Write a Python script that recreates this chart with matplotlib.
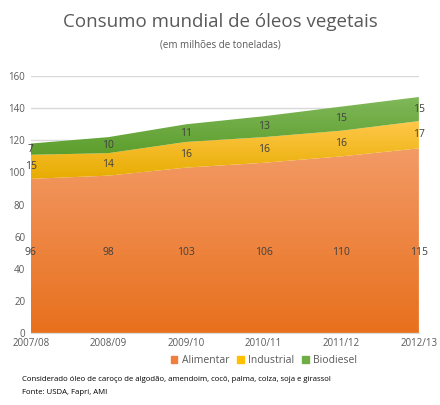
import matplotlib
matplotlib.use("Agg")
import matplotlib.pyplot as plt
import numpy as np
from matplotlib.colors import LinearSegmentedColormap
plt.rcParams['font.family'] = ['Open Sans', 'DejaVu Sans']

years = ["2007/08", "2008/09", "2009/10", "2010/11", "2011/12", "2012/13"]
alimentar = [96, 98, 103, 106, 110, 115]
industrial = [15, 14, 16, 16, 16, 17]
biodiesel = [7, 10, 11, 13, 15, 15]

fig = plt.figure(figsize=(4.4, 4.05), dpi=100)
ax = fig.add_axes([0.07, 0.178, 0.882, 0.634])
x = np.arange(len(years))
a = np.array(alimentar); i = np.array(industrial); b = np.array(biodiesel)
layers = [(np.zeros(6), a, ("#e8701c", "#f39a66")),
          (a, a + i, ("#e7ac00", "#ffc84a")),
          (a + i, a + i + b, ("#5c9e2c", "#80b85a"))]
for lo, hi, (c0, c1) in layers:
    poly = ax.fill_between(x, lo, hi, color="none", lw=0)
    cmap = LinearSegmentedColormap.from_list("g", [c0, c1])
    im = ax.imshow(np.linspace(0, 1, 256).reshape(-1, 1), cmap=cmap, aspect="auto",
                   extent=[x[0], x[-1], lo.min(), hi.max()], origin="lower", zorder=1)
    im.set_clip_path(poly.get_paths()[0], transform=ax.transData)

ax.set_xlim(0, 5); ax.set_ylim(0, 160)
ax.set_yticks(range(0, 161, 20))
ax.yaxis.grid(True, color="#d9d9d9", lw=1); ax.set_axisbelow(True)
ax.set_xticks(x); ax.set_xticklabels(years)
for s in ["top", "right", "left"]:
    ax.spines[s].set_visible(False)
ax.spines["bottom"].set_color("#d9d9d9")
ax.tick_params(length=0, labelsize=7, colors="#595959", pad=4)

for k in range(6):
    ax.text(x[k], 50, str(alimentar[k]), ha="center", va="center", fontsize=7.5, color="#404040", zorder=3)
    ax.text(x[k], a[k] + i[k] / 2, str(industrial[k]), ha="center", va="center", fontsize=7.5, color="#404040", zorder=3)
    ax.text(x[k], a[k] + i[k] + b[k] / 2, str(biodiesel[k]), ha="center", va="center", fontsize=7.5, color="#404040", zorder=3)

fig.text(0.5, 0.945, "Consumo mundial de óleos vegetais", ha="center", va="center", fontsize=13.5, color="#595959")
fig.text(0.5, 0.888, "(em milhões de toneladas)", ha="center", va="center", fontsize=7, color="#595959")

from matplotlib.patches import Patch
handles = [Patch(color="#ef7f3a"), Patch(color="#ffc000"), Patch(color="#70ad47")]
fig.legend(handles, ["Alimentar", "Industrial", "Biodiesel"], loc="center", bbox_to_anchor=(0.6, 0.11),
           ncol=3, frameon=False, fontsize=7.5, handlelength=0.6, handleheight=0.6, columnspacing=0.8,
           handletextpad=0.4, labelcolor="#595959")
fig.text(0.05, 0.06, "Considerado óleo de caroço de algodão, amendoim, cocô, palma, colza, soja e girassol", fontsize=5.6, color="#000000")
fig.text(0.05, 0.028, "Fonte: USDA, Fapri, AMI", fontsize=5.6, color="#000000")
fig.savefig("out.png", dpi=100)
